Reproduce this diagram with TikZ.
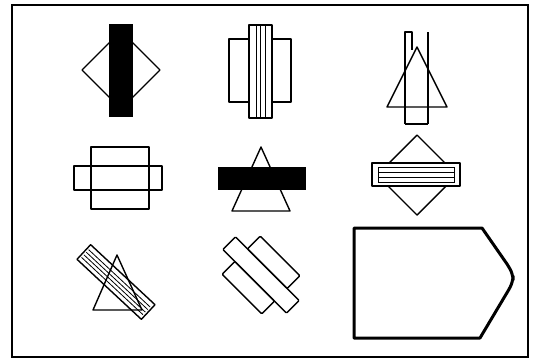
\documentclass[tikz,border=0pt]{standalone}
\begin{document}
\begin{tikzpicture}[x=1pt,y=-1pt,
  fig/.style={line width=1.4pt,line join=round},
  thin fig/.style={line width=0.8pt},
  thick fig/.style={line width=3pt,line join=round}]
\useasboundingbox (0,0) rectangle (535,362);
% frame
\draw[line width=1.8pt] (12,5) rectangle (528,357);
% 1: diamond with black bar
\draw[fig] (82,70) -- (121,31) -- (160,70) -- (121,109) -- cycle;
\fill (109,24) rectangle (133,117);
% 2: rectangle with striped vertical bar
\draw[fig] (229,39) rectangle (291,102);
\draw[fig,fill=white] (249,25) rectangle (272,118);
\foreach \xx in {256,260.5,265} \draw[thin fig] (\xx,25) -- (\xx,118);
% 3: triangle with tall rectangle
\draw[fig] (417,47) -- (447,107) -- (387,107) -- cycle;
\draw[fig] (405,124) -- (405,32) -- (412,32) -- (412,50);
\draw[fig] (428,32) -- (428,124);
\draw[fig] (405,124) -- (428,124);
% 4: square with horizontal bar
\draw[fig] (91,147) rectangle (149,209);
\draw[fig] (74,166) rectangle (162,190);
% 5: triangle with black bar
\draw[fig] (261,147) -- (290,211) -- (232,211) -- cycle;
\fill (218,167) rectangle (306,190);
% 6: diamond with striped bar
\draw[fig] (417,135) -- (457,175) -- (417,215) -- (377,175) -- cycle;
\draw[fig,fill=white] (372,163) rectangle (460,186);
\draw[line width=0.9pt] (378,167) rectangle (454,182);
\draw[line width=0.9pt] (378,172) -- (454,172) (378,177) -- (454,177);
% 7: triangle with slanted striped bar
\draw[fig] (117,255) -- (142,310) -- (93,310) -- cycle;
\begin{scope}[shift={(116,282)},rotate=-43]
  \draw[fig] (-44,-10) rectangle (44,10);
  \foreach \yy in {-5,-1.5,2,5.5} \draw[thin fig] (-42,\yy) -- (42,\yy);
\end{scope}
% 8: three parallel slanted bars
\begin{scope}[shift={(261,275)},rotate=-45]
  \draw[fig,rounded corners=1pt] (-45,-9) rectangle (45,9);
  \draw[fig,rounded corners=1pt] (-28,-27) rectangle (28,-9);
  \draw[fig,rounded corners=1pt] (-28,9) rectangle (28,27);
\end{scope}
% 9: pentagon
\draw[thick fig] (354,228) -- (482,228) -- (507,264)
  [rounded corners=6pt] -- (513,274) -- (513,282) [sharp corners] -- (508,291)
  -- (480,338) -- (354,338) -- cycle;
\end{tikzpicture}
\end{document}
